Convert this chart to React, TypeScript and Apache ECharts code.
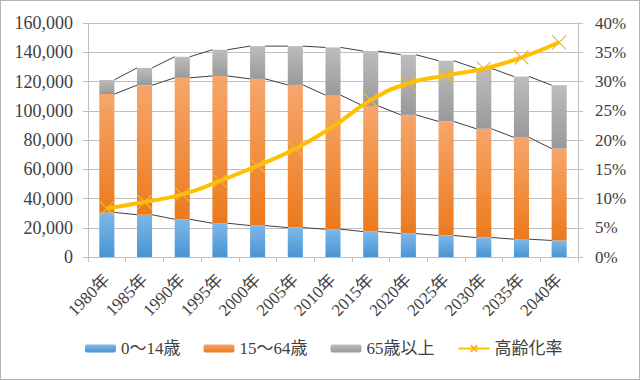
import React, { useEffect, useRef } from "react";
import * as echarts from "echarts";

const years = ["1980年", "1985年", "1990年", "1995年", "2000年", "2005年", "2010年", "2015年", "2020年", "2025年", "2030年", "2035年", "2040年"];
const age0to14 = [30.5, 28.9, 25.8, 23.1, 21.5, 20.1, 19.0, 17.4, 16.0, 14.7, 13.3, 12.2, 11.3].map((v) => v * 1000);
const age15to64 = [80.9, 88.6, 96.7, 100.7, 100.3, 97.6, 91.7, 85.9, 81.2, 78.0, 74.4, 69.6, 62.8].map((v) => v * 1000);
const age65plus = [9.7, 11.8, 14.4, 17.9, 22.4, 26.5, 32.6, 37.5, 41.1, 41.5, 41.3, 41.6, 43.4].map((v) => v * 1000);
const agingRate = [8.3, 9.4, 10.7, 13.0, 15.6, 18.5, 22.3, 26.8, 29.7, 31.0, 32.2, 34.1, 36.7];
const leftTicks = { min: 0, max: 160000, interval: 20000 };
const rightTicks = { min: 0, max: 40, interval: 5 };

const FONT = '"Liberation Serif", "Times New Roman", "DejaVu Serif", "Noto Sans CJK JP", serif';
const TEXT = "#404040";

const grad = (top: string, bottom: string) =>
  new echarts.graphic.LinearGradient(0, 0, 0, 1, [
    { offset: 0, color: top },
    { offset: 1, color: bottom },
  ]);

export default function App() {
  const ref = useRef<HTMLDivElement>(null);
  useEffect(() => {
    if (!ref.current) return;
    const chart = echarts.init(ref.current, undefined, { renderer: "svg" });
    const cum1 = age0to14;
    const cum2 = age0to14.map((v, i) => v + age15to64[i]);
    const cum3 = cum2.map((v, i) => v + age65plus[i]);
    const connData = years.slice(0, -1).map((_, i) => [i, cum1[i], cum2[i], cum3[i], cum1[i + 1], cum2[i + 1], cum3[i + 1]]);
    const lbl = { fontSize: 17, color: TEXT, fontFamily: FONT };
    chart.setOption({
      animation: false,
      textStyle: { fontFamily: FONT, color: TEXT },
      grid: { left: 87, right: 61, top: 22, bottom: 122 },
      legend: {
        bottom: 17,
        left: 79,
        itemWidth: 31,
        itemHeight: 8,
        itemGap: 23,
        textStyle: { ...lbl },
        data: ["0～14歳", "15～64歳", "65歳以上", "高齢化率"],
      },
      xAxis: {
        type: "category",
        data: years,
        axisLine: { lineStyle: { color: "#bfbfbf" } },
        axisTick: { show: true, length: 5, lineStyle: { color: "#bfbfbf" } },
        axisLabel: { ...lbl, rotate: 45, margin: 20, interval: 0 },
      },
      yAxis: [
        {
          type: "value",
          ...leftTicks,
          axisLine: { show: true, lineStyle: { color: "#bfbfbf" } },
          axisTick: { show: true, length: 5, lineStyle: { color: "#bfbfbf" } },
          splitLine: { lineStyle: { color: "#bfbfbf" } },
          axisLabel: {
            ...lbl,
            fontSize: 18,
            margin: 15,
            formatter: (v: number) => v.toLocaleString("en-US"),
          },
        },
        {
          type: "value",
          ...rightTicks,
          axisLine: { show: true, lineStyle: { color: "#bfbfbf" } },
          axisTick: { show: true, length: 5, lineStyle: { color: "#bfbfbf" } },
          splitLine: { show: false },
          axisLabel: { ...lbl, margin: 17, formatter: "{value}%" },
        },
      ],
      series: [
        {
          name: "0～14歳",
          type: "bar",
          stack: "pop",
          barWidth: "40%",
          data: age0to14,
          itemStyle: { color: grad("#7db8e8", "#4a94d3") },
        },
        {
          name: "15～64歳",
          type: "bar",
          stack: "pop",
          barWidth: "40%",
          data: age15to64,
          itemStyle: { color: grad("#f6a66c", "#ec7a1c") },
        },
        {
          name: "65歳以上",
          type: "bar",
          stack: "pop",
          barWidth: "40%",
          data: age65plus,
          itemStyle: { color: grad("#bdbdbd", "#999999") },
        },
        {
          name: "connectors",
          type: "custom",
          silent: true,
          z: 3,
          data: connData,
          renderItem: (params: any, api: any) => {
            const i = api.value(0);
            const half = (api.size([1, 0])[0] * 0.4) / 2;
            const children = [1, 2, 3].map((k) => {
              const a = api.coord([i, api.value(k)]);
              const b = api.coord([i + 1, api.value(k + 3)]);
              return {
                type: "line",
                shape: { x1: a[0] + half, y1: a[1], x2: b[0] - half, y2: b[1] },
                style: { stroke: "#404040", lineWidth: 1 },
              };
            });
            return { type: "group", children };
          },
        },
        {
          name: "高齢化率",
          type: "line",
          yAxisIndex: 1,
          smooth: true,
          z: 5,
          data: agingRate,
          symbol: "path://M0,0L10,10M10,0L0,10",
          symbolSize: 14,
          lineStyle: { color: "#ffc000", width: 4 },
          itemStyle: { color: "#ffc000", borderColor: "#f5b52a", borderWidth: 1.2 },
        },
      ],
    });
    return () => chart.dispose();
  }, []);
  return (
    <div
      ref={ref}
      style={{
        position: "fixed",
        left: 0,
        top: 0,
        width: 640,
        height: 380,
        boxSizing: "border-box",
        border: "1px solid #b4b4b4",
        background: "#fff",
      }}
    />
  );
}
